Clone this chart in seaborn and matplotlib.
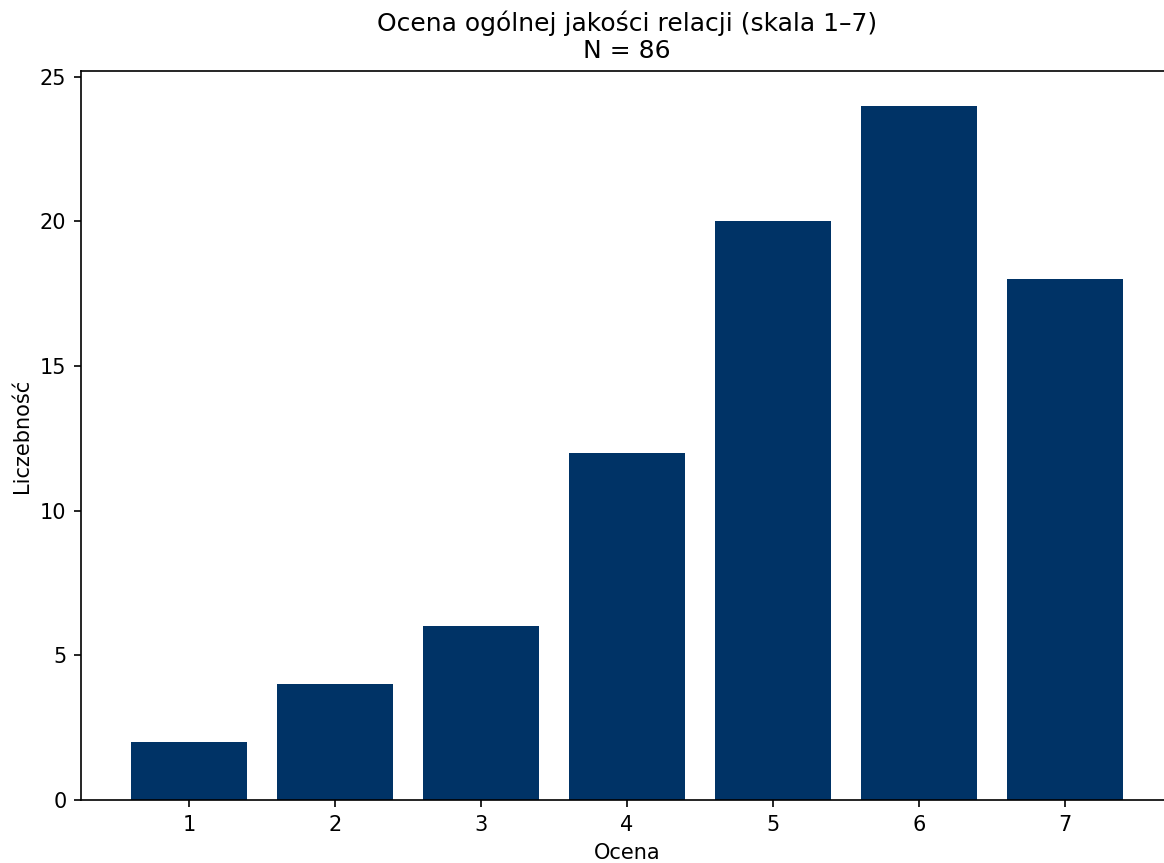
import pandas as pd
import matplotlib
matplotlib.use("Agg")
import matplotlib.pyplot as plt
import seaborn as sns

# dane
oceny = [1, 2, 3, 4, 5, 6, 7]
liczebnosci = [2, 4, 6, 12, 20, 24, 18]
yticks = [0, 5, 10, 15, 20, 25]

df = pd.DataFrame({"Ocena": oceny, "Liczebnosc": liczebnosci})

fig = plt.figure(figsize=(1164 / 150, 863 / 150), dpi=150)
# oś wychodzi lekko poza prawą krawędź, jak w oryginale
ax = fig.add_axes([81 / 1164, 1 - 800 / 863, (1173 - 81) / 1164, (800 - 71) / 863])

sns.barplot(data=df, x="Ocena", y="Liczebnosc", native_scale=True,
            color="#003366", saturation=1, linewidth=0, width=0.8, ax=ax)

ax.set_xlim(0.26, 7.74)
ax.set_ylim(0, 25.2)
ax.set_xticks(oceny)
ax.set_yticks(yticks)
ax.set_xlabel("Ocena")
ax.set_ylabel("Liczebność")
ax.set_title("Ocena ogólnej jakości relacji (skala 1–7)\nN = 86", fontsize=12)
ax.spines["right"].set_visible(False)

fig.savefig("out.png", dpi=150)
